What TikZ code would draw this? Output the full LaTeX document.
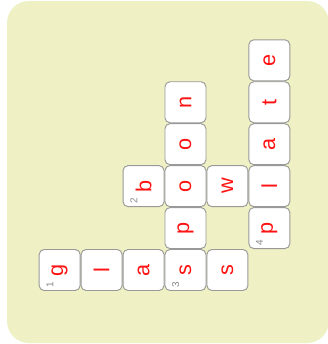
\documentclass[tikz,border=0pt]{standalone}
\usepackage{fontspec}
\setmainfont{Liberation Sans}
\usetikzlibrary{positioning}
\definecolor{cwBack}{HTML}{EFF0C3}
\definecolor{cwBorder}{HTML}{999999}
\definecolor{cwLetter}{HTML}{FF1212}
\definecolor{cwNum}{HTML}{8A8A8A}
\newcommand{\cwturn}[1]{\rotatebox{90}{#1}}
\tikzset{
  cellbox/.style={
    draw=cwBorder, fill=white, line width=0.8pt, rounded corners=0.15cm,
    minimum size=1.23cm, inner sep=0pt, text=cwLetter,
    font=\fontsize{18.5}{18.5}\selectfont
  },
  numtag/.style={font=\fontsize{8.5}{8.5}\selectfont, text=cwNum, inner sep=0pt, anchor=south west},
  board/.style={fill=cwBack, rounded corners=0.66cm}
}
\begin{document}
\begin{tikzpicture}[node distance=0mm]
  \useasboundingbox (0,0) rectangle (9.84,10.32);
  \fill[board] (0.21,0.03) rectangle (9.87,10.29);
  \node[cellbox] (glass1) at (1.79,2.22) {\cwturn{g}};
  \node[cellbox, right=of glass1] (glass2) {\cwturn{l}};
  \node[cellbox, right=of glass2] (glass3) {\cwturn{a}};
  \node[cellbox, right=of glass3] (glass4) {\cwturn{s}};
  \node[cellbox, right=of glass4] (glass5) {\cwturn{s}};
  \node[cellbox, above=of glass4] (spoon2) {\cwturn{p}};
  \node[cellbox, above=of spoon2] (spoon3) {\cwturn{o}};
  \node[cellbox, above=of spoon3] (spoon4) {\cwturn{o}};
  \node[cellbox, above=of spoon4] (spoon5) {\cwturn{n}};
  \node[cellbox, left=of spoon3] (bowl1) {\cwturn{b}};
  \node[cellbox, right=of spoon3] (bowl3) {\cwturn{w}};
  \node[cellbox, right=of bowl3] (plate2) {\cwturn{l}};
  \node[cellbox, below=of plate2] (plate1) {\cwturn{p}};
  \node[cellbox, above=of plate2] (plate3) {\cwturn{a}};
  \node[cellbox, above=of plate3] (plate4) {\cwturn{t}};
  \node[cellbox, above=of plate4] (plate5) {\cwturn{e}};
  \node[numtag] (num1) at ([shift={(0.225,0.105)}]glass1.south west) {\cwturn{1}};
  \node[numtag] (num2) at ([shift={(0.225,0.105)}]bowl1.south west) {\cwturn{2}};
  \node[numtag] (num3) at ([shift={(0.225,0.105)}]glass4.south west) {\cwturn{3}};
  \node[numtag] (num4) at ([shift={(0.225,0.105)}]plate1.south west) {\cwturn{4}};
\end{tikzpicture}
\end{document}
